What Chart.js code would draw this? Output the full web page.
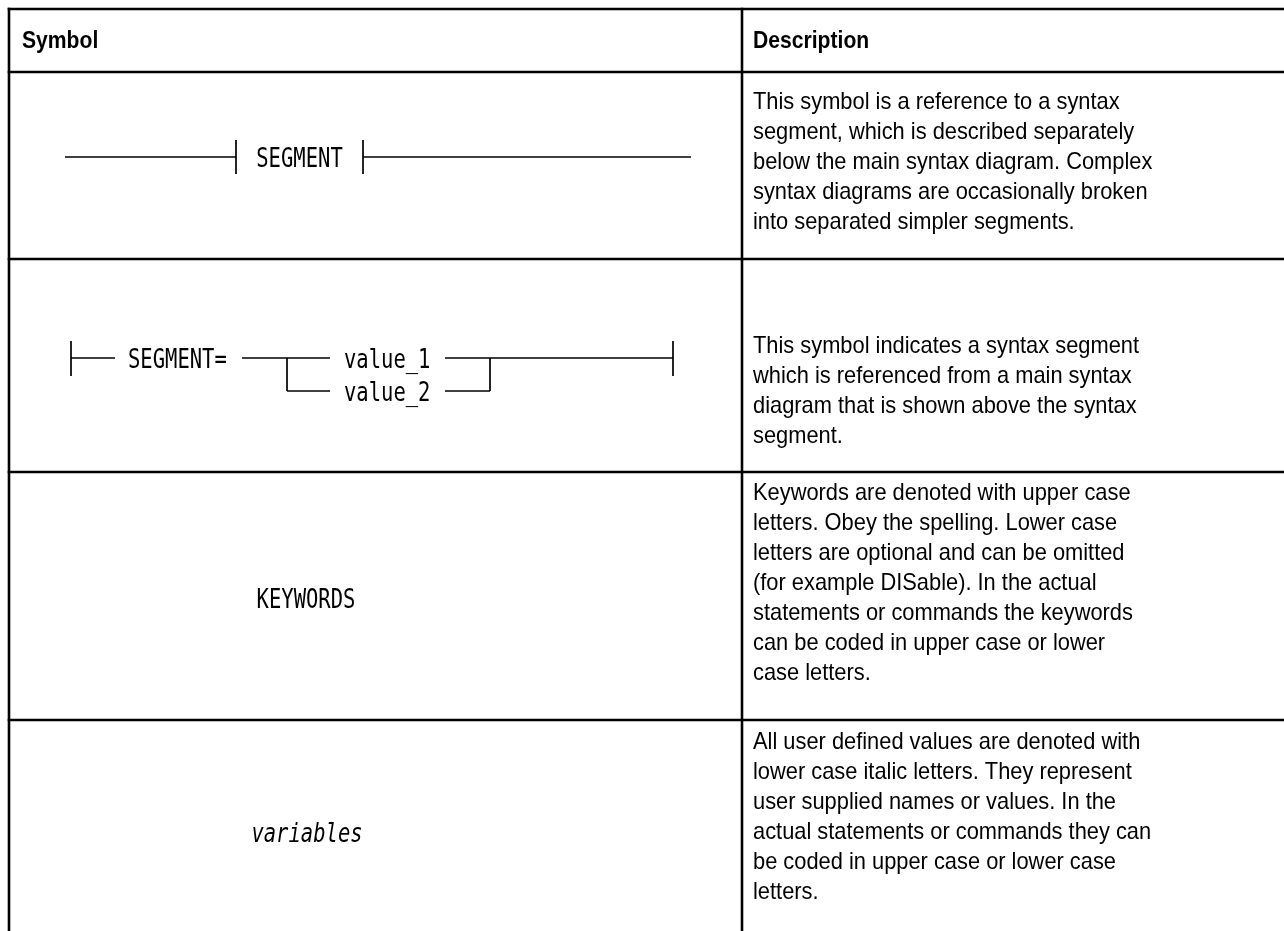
<!DOCTYPE html>
<html>
<head>
<meta charset="utf-8">
<script src="https://cdn.jsdelivr.net/npm/chart.js@4.4.1/dist/chart.umd.min.js"></script>
<style>
html,body{margin:0;padding:0;background:#ffffff;}
#wrap{width:1284px;height:931px;position:relative;overflow:hidden;}
canvas{display:block;}
</style>
</head>
<body>
<div id="wrap"><canvas id="c" width="1284" height="931"></canvas></div>
<script>
// ---- content (text) ----
const headers = ["Symbol", "Description"];
const symbolLabels = ["SEGMENT", "SEGMENT=", "KEYWORDS", "variables"];
const choiceLabels = ["value_1", "value_2"];
const descRow1 = [
  "This symbol is a reference to a syntax",
  "segment, which is described separately",
  "below the main syntax diagram. Complex",
  "syntax diagrams are occasionally broken",
  "into separated simpler segments."
];
const descRow2 = [
  "This symbol indicates a syntax segment",
  "which is referenced from a main syntax",
  "diagram that is shown above the syntax",
  "segment."
];
const descRow3 = [
  "Keywords are denoted with upper case",
  "letters. Obey the spelling. Lower case",
  "letters are optional and can be omitted",
  "(for example DISable). In the actual",
  "statements or commands the keywords",
  "can be coded in upper case or lower",
  "case letters."
];
const descRow4 = [
  "All user defined values are denoted with",
  "lower case italic letters. They represent",
  "user supplied names or values. In the",
  "actual statements or commands they can",
  "be coded in upper case or lower case",
  "letters."
];
const descriptions = [descRow1, descRow2, descRow3, descRow4];

// ---- layout (page coordinates, used through the chart's scales) ----
const layout = {
  width: 1284, height: 931,
  tableLeft: 9, tableRight: 1284, tableTop: 9, tableBottom: 931,
  colDivider: 742,
  rowLines: [72, 259, 472, 720],
  headerBaseline: 48,
  headerX: [22, 753],
  descX: 753,
  descFirstBaseline: [109, 353, 500, 749],
  lineStep: 30,
  symbolCenters: [[299.5, 157], [128, 358], [306, 598], [307, 832]],
  choiceX: 344, choiceY: [358, 391],
  diagram: [
    // segment reference
    [[65,157],[236,157]], [[236,140],[236,174]],
    [[363,140],[363,174]], [[363,157],[691,157]],
    // segment definition
    [[71,341],[71,376]], [[71,358],[115,358]],
    [[242,358],[330,358]], [[287,358],[287,391]], [[287,391],[330,391]],
    [[445,358],[673,358]], [[490,358],[490,391]], [[445,391],[490,391]],
    [[673,341],[673,376]]
  ]
};

const tableSegments = [];
tableSegments.push([[layout.tableLeft, layout.tableTop],[layout.tableRight, layout.tableTop]]);
tableSegments.push([[layout.tableLeft, layout.tableTop],[layout.tableLeft, layout.tableBottom]]);
tableSegments.push([[layout.colDivider, layout.tableTop],[layout.colDivider, layout.tableBottom]]);
layout.rowLines.forEach(y => tableSegments.push([[layout.tableLeft, y],[layout.tableRight, y]]));

const datasets = [];
tableSegments.forEach(s => datasets.push({
  data: s.map(p => ({x: p[0], y: p[1]})), showLine: true, borderColor: '#000',
  borderWidth: 2.6, pointRadius: 0, borderCapStyle: 'square', fill: false
}));
layout.diagram.forEach(s => datasets.push({
  data: s.map(p => ({x: p[0], y: p[1]})), showLine: true, borderColor: '#000',
  borderWidth: 1.7, pointRadius: 0, borderCapStyle: 'butt', fill: false
}));

function drawText(ctx, str, x, y, font, sx, align) {
  ctx.save();
  ctx.font = font;
  ctx.fillStyle = '#000';
  ctx.textAlign = align || 'left';
  ctx.textBaseline = 'alphabetic';
  ctx.translate(x, y);
  ctx.scale(sx, 1);
  ctx.fillText(str, 0, 0);
  ctx.restore();
}

const textPlugin = {
  id: 'tableText',
  afterDatasetsDraw(chart) {
    const ctx = chart.ctx;
    const X = v => chart.scales.x.getPixelForValue(v);
    const Y = v => chart.scales.y.getPixelForValue(v);
    const headFont = 'bold 24px "Liberation Sans", Arial, sans-serif';
    const bodyFont = '24px "Liberation Sans", Arial, sans-serif';
    const monoFont = '27px "DejaVu Sans Mono", monospace';
    const monoItalic = 'oblique 27px "DejaVu Sans Mono", monospace';
    const monoSX = 0.76, bodySX = 0.91, headSX = 0.88;
    const capOff = 9.8;
    headers.forEach((h, i) => drawText(ctx, h, X(layout.headerX[i]), Y(layout.headerBaseline), headFont, headSX));
    descriptions.forEach((lines, r) => {
      lines.forEach((ln, k) => drawText(ctx, ln, X(layout.descX), Y(layout.descFirstBaseline[r] + k * layout.lineStep), bodyFont, bodySX));
    });
    const sc = layout.symbolCenters;
    drawText(ctx, symbolLabels[0], X(sc[0][0]), Y(sc[0][1] + capOff), monoFont, monoSX, 'center');
    drawText(ctx, symbolLabels[1], X(sc[1][0]), Y(sc[1][1] + capOff), monoFont, monoSX, 'left');
    drawText(ctx, symbolLabels[2], X(sc[2][0]), Y(sc[2][1] + capOff), monoFont, monoSX, 'center');
    drawText(ctx, symbolLabels[3], X(sc[3][0]), Y(sc[3][1] + capOff), monoItalic, monoSX, 'center');
    choiceLabels.forEach((c, i) => drawText(ctx, c, X(layout.choiceX), Y(layout.choiceY[i] + capOff), monoFont, monoSX, 'left'));
  }
};

new Chart(document.getElementById('c'), {
  type: 'scatter',
  data: { datasets },
  options: {
    responsive: false,
    maintainAspectRatio: false,
    animation: false,
    devicePixelRatio: 1,
    layout: { padding: 0 },
    plugins: { legend: { display: false }, tooltip: { enabled: false }, title: { display: false } },
    events: [],
    scales: {
      x: { type: 'linear', min: 0, max: layout.width, display: false },
      y: { type: 'linear', min: 0, max: layout.height, reverse: true, display: false }
    },
    elements: { line: { tension: 0 } },
    clip: false
  },
  plugins: [textPlugin]
});
</script>
</body>
</html>
